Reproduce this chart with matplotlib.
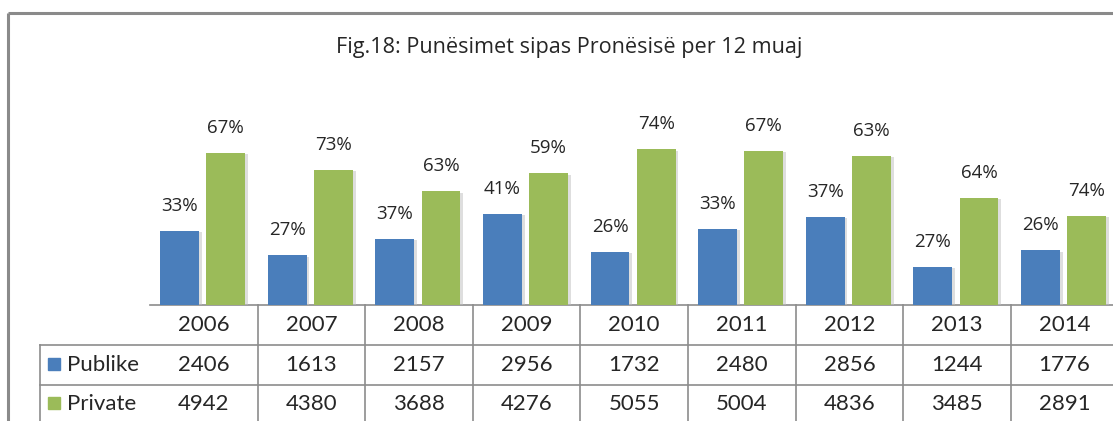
import matplotlib
matplotlib.use("Agg")
import matplotlib.pyplot as plt
import matplotlib.transforms as mtransforms
from matplotlib.patches import Rectangle
import matplotlib.patheffects as pe

plt.rcParams['font.family'] = ['Lato', 'DejaVu Sans']

years = ["2006", "2007", "2008", "2009", "2010", "2011", "2012", "2013", "2014"]
publike = [2406, 1613, 2157, 2956, 1732, 2480, 2856, 1244, 1776]
private = [4942, 4380, 3688, 4276, 5055, 5004, 4836, 3485, 2891]
publike_pct = ["33%", "27%", "37%", "41%", "26%", "33%", "37%", "27%", "26%"]
private_pct = ["67%", "73%", "63%", "59%", "74%", "67%", "63%", "64%", "74%"]
title = "Fig.18: Punësimet sipas Pronësisë per 12 muaj"

W, H = 1113, 421
BLUE = "#4A7EBB"
GREEN = "#9BBB59"
TXT = "#262626"
GRID = "#8C8C8C"

fig = plt.figure(figsize=(W / 100, H / 100), dpi=100)

# overlay in pixel coords
ov = fig.add_axes([0, 0, 1, 1])
ov.set_xlim(0, W)
ov.set_ylim(H, 0)
ov.axis("off")

cat_w = 107.6
x0 = 150
ax = fig.add_axes([x0 / W, (H - 305) / H, len(years) * cat_w / W, 205 / H])
ax.set_xlim(0, len(years))
ax.set_ylim(0, 6650)
ax.axis("off")

pos = [i + 0.5 for i in range(len(years))]
bw = 0.36
shadow = [pe.SimplePatchShadow(offset=(2, -1), shadow_rgbFace="#bfbfbf", alpha=0.5), pe.Normal()]
b1 = ax.bar([p - 0.225 for p in pos], publike, width=bw, color=BLUE, zorder=3)
b2 = ax.bar([p + 0.205 for p in pos], private, width=bw, color=GREEN, zorder=3)
for b in list(b1) + list(b2):
    b.set_path_effects(shadow)

for bars, labs in ((b1, publike_pct), (b2, private_pct)):
    for rect, lab in zip(bars, labs):
        ax.annotate(lab, (rect.get_x() + rect.get_width() / 2, rect.get_height()),
                    xytext=(0, 16), textcoords="offset pixels", ha="center", va="bottom",
                    fontsize=13.5, color=TXT, family=["Open Sans", "DejaVu Sans"])

# title
ov.text(569, 48, title, ha="center", va="center", fontsize=15.6, color=TXT,
        family=["Open Sans", "DejaVu Sans"])

# frame
ov.plot([8, 8], [13, H], color="#8a8a8a", lw=2.2, solid_capstyle="butt")
ov.plot([8, W], [13, 13], color="#8a8a8a", lw=2.2, solid_capstyle="butt")

# table lines
ov.plot([x0, W], [305, 305], color=GRID, lw=1.2)
ov.plot([40, W], [345, 345], color=GRID, lw=1.2)
ov.plot([40, W], [385, 385], color=GRID, lw=1.2)
ov.plot([40, 40], [345, H], color=GRID, lw=1.2)
for i in range(1, len(years) + 1):
    xb = x0 + i * cat_w
    ov.plot([xb, xb], [305, H], color=GRID, lw=1.2)

tr = mtransforms.blended_transform_factory(ax.transData, ov.transData)
for p, y, a, b in zip(pos, years, publike, private):
    ax.text(p, 325, y, transform=tr, ha="center", va="center", fontsize=16, color=TXT)
    ax.text(p, 365, str(a), transform=tr, ha="center", va="center", fontsize=16, color=TXT)
    ax.text(p, 404, str(b), transform=tr, ha="center", va="center", fontsize=16, color=TXT)

# legend keys
ov.add_patch(Rectangle((48, 358), 12, 12, color=BLUE))
ov.add_patch(Rectangle((48, 397), 12, 12, color=GREEN))
ov.text(67, 365, "Publike", ha="left", va="center", fontsize=16, color=TXT)
ov.text(67, 404, "Private", ha="left", va="center", fontsize=16, color=TXT)

fig.savefig("out.png", dpi=100)
